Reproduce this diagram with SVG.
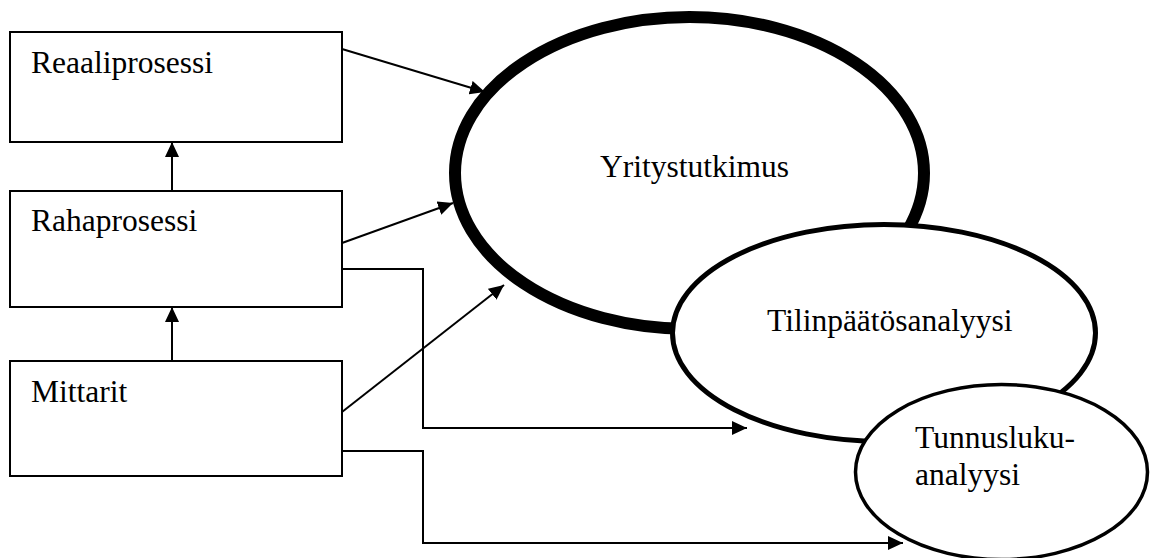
<svg xmlns="http://www.w3.org/2000/svg" width="1151" height="558" viewBox="0 0 1151 558">
<style>
.box{fill:#fff;stroke:#000;stroke-width:2}
.lbl{font-family:"Liberation Serif","Times New Roman",serif;font-size:31.5px;fill:#000}
.con{fill:none;stroke:#000;stroke-width:2}
</style>
<defs>
<marker id="ah" markerUnits="userSpaceOnUse" markerWidth="15" markerHeight="14" refX="15" refY="7" orient="auto">
<path d="M0,0 L15,7 L0,14 z" fill="#000"/>
</marker>
</defs>
<rect width="1151" height="558" fill="#fff"/>
<g id="reaaliprosessi">
<rect class="box" x="10" y="32" width="332" height="110"/>
<text class="lbl" x="31" y="73">Reaaliprosessi</text>
</g>
<g id="rahaprosessi">
<rect class="box" x="10" y="191" width="332" height="116"/>
<text class="lbl" x="31" y="231">Rahaprosessi</text>
</g>
<g id="mittarit">
<rect class="box" x="10" y="361" width="332" height="115"/>
<text class="lbl" x="31" y="402">Mittarit</text>
</g>
<g id="yritystutkimus">
<ellipse cx="689.5" cy="173" rx="234.5" ry="156" fill="#fff" stroke="#000" stroke-width="12"/>
<text class="lbl" x="600" y="177">Yritystutkimus</text>
</g>
<g id="tilinpaatosanalyysi">
<ellipse cx="884" cy="333" rx="211.5" ry="108.5" fill="#fff" stroke="#000" stroke-width="5"/>
<text class="lbl" x="767" y="331">Tilinpäätösanalyysi</text>
</g>
<g id="tunnuslukuanalyysi">
<ellipse cx="1001.5" cy="472" rx="146" ry="87.5" fill="#fff" stroke="#000" stroke-width="3.5"/>
<text class="lbl" x="915" y="448">Tunnusluku-</text>
<text class="lbl" x="915" y="485">analyysi</text>
</g>
<g id="connectors">
<line class="con" x1="342" y1="49" x2="485" y2="92" marker-end="url(#ah)"/>
<line class="con" x1="342" y1="243" x2="453" y2="203" marker-end="url(#ah)"/>
<polyline class="con" points="342,269 423,269 423,428 747,428" marker-end="url(#ah)"/>
<line class="con" x1="342" y1="412" x2="504" y2="285" marker-end="url(#ah)"/>
<polyline class="con" points="342,451 423,451 423,543 903,543" marker-end="url(#ah)"/>
<line class="con" x1="172" y1="191" x2="172" y2="142" marker-end="url(#ah)"/>
<line class="con" x1="172" y1="361" x2="172" y2="307" marker-end="url(#ah)"/>
</g>
</svg>
